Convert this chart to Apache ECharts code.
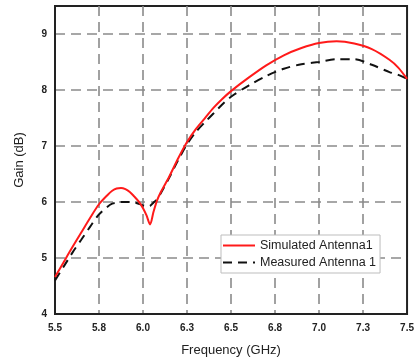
<!DOCTYPE html>
<html>
<head>
<meta charset="utf-8">
<script src="https://cdn.jsdelivr.net/npm/echarts@6/dist/echarts.min.js"></script>
<style>
  html, body { margin: 0; padding: 0; background: #fff; }
  #chart { width: 417px; height: 362px; }
</style>
</head>
<body>
<div id="chart"></div>
<script>
// frequency points (GHz), finer around the bump and the notch near 6.04 GHz
const freq = [5.5, 5.55, 5.6, 5.65, 5.7, 5.75, 5.8, 5.825, 5.85, 5.875, 5.9, 5.925, 5.95, 5.975, 6.0, 6.02, 6.04, 6.06, 6.08, 6.1,
  6.15, 6.2, 6.25, 6.3, 6.35, 6.4, 6.45, 6.5, 6.6, 6.7, 6.8, 6.9, 7.0, 7.1, 7.2, 7.3, 7.4, 7.45, 7.5];
const simulatedGain = [4.66, 4.93, 5.2, 5.46, 5.72, 5.96, 6.13, 6.2, 6.24, 6.25, 6.23, 6.18, 6.1, 6.01, 5.89, 5.76, 5.6, 5.83, 6.03, 6.17,
  6.46, 6.78, 7.07, 7.3, 7.49, 7.68, 7.84, 7.98, 8.22, 8.44, 8.62, 8.75, 8.84, 8.87, 8.83, 8.73, 8.54, 8.4, 8.2];
const measuredGain = [4.6, 4.85, 5.1, 5.33, 5.56, 5.78, 5.92, 5.97, 5.99, 6.0, 6.0, 6.0, 5.99, 5.97, 5.94, 5.92, 5.93, 5.99, 6.05, 6.15,
  6.44, 6.75, 7.03, 7.25, 7.42, 7.58, 7.74, 7.88, 8.08, 8.25, 8.38, 8.46, 8.5, 8.55, 8.55, 8.45, 8.32, 8.27, 8.2];
const xTickLabels = ['5.5', '5.8', '6.0', '6.3', '6.5', '6.8', '7.0', '7.3', '7.5'];

const font = 'Liberation Sans, Arial, sans-serif';
const chart = echarts.init(document.getElementById('chart'));

// dashed grey grid, but not on the frame edges
const gridLine = {
  show: true, showMinLine: false, showMaxLine: false,
  lineStyle: { color: '#8a8a8a', width: 1.6, type: [10, 6] }
};

chart.setOption({
  animation: false,
  grid: {
    left: 55, right: 9, top: 6, bottom: 47,
    show: true, borderColor: '#222', borderWidth: 2
  },
  legend: {
    orient: 'vertical',
    left: 221, top: 235,
    padding: [4, 4, 4, 1],
    itemWidth: 32,
    itemHeight: 14,
    itemGap: 4,
    itemStyle: { opacity: 0 },
    backgroundColor: '#fff',
    borderColor: '#bdbdbd',
    borderWidth: 1,
    borderRadius: 0,
    textStyle: { fontFamily: font, fontSize: 12.5, color: '#222' },
    data: ['Simulated Antenna1', 'Measured Antenna 1']
  },
  xAxis: {
    type: 'value',
    min: 5.5, max: 7.5, interval: 0.25,
    name: 'Frequency (GHz)',
    nameLocation: 'middle',
    nameGap: 30,
    nameTextStyle: { fontFamily: font, fontSize: 13, color: '#222' },
    axisLine: { lineStyle: { color: '#222', width: 2 } },
    axisTick: { show: false },
    axisLabel: {
      margin: 9,
      fontFamily: font, fontSize: 10, fontWeight: 'bold', color: '#222',
      formatter: (v) => xTickLabels[Math.round((v - 5.5) / 0.25)] || ''
    },
    splitLine: gridLine
  },
  yAxis: {
    type: 'value',
    min: 4, max: 9.5, interval: 1,
    name: 'Gain (dB)',
    nameLocation: 'middle',
    nameGap: 29,
    nameTextStyle: { fontFamily: font, fontSize: 13, color: '#222' },
    axisLine: { lineStyle: { color: '#222', width: 2 } },
    axisTick: { show: false },
    axisLabel: {
      margin: 8,
      fontFamily: font, fontSize: 10, fontWeight: 'bold', color: '#222',
      formatter: (v) => (Math.abs(v - Math.round(v)) < 1e-6 ? String(Math.round(v)) : '')
    },
    splitLine: gridLine
  },
  series: [
    {
      name: 'Simulated Antenna1',
      type: 'line',
      data: freq.map((f, i) => [f, simulatedGain[i]]),
      symbol: 'none',
      smooth: 0.3,
      lineStyle: { color: '#ff1a1a', width: 2 },
      itemStyle: { color: '#ff1a1a' },
      z: 3
    },
    {
      name: 'Measured Antenna 1',
      type: 'line',
      data: freq.map((f, i) => [f, measuredGain[i]]),
      symbol: 'none',
      smooth: 0.3,
      lineStyle: { color: '#111', width: 2, type: [9, 6] },
      itemStyle: { color: '#111' },
      z: 2
    }
  ]
});
</script>
</body>
</html>
